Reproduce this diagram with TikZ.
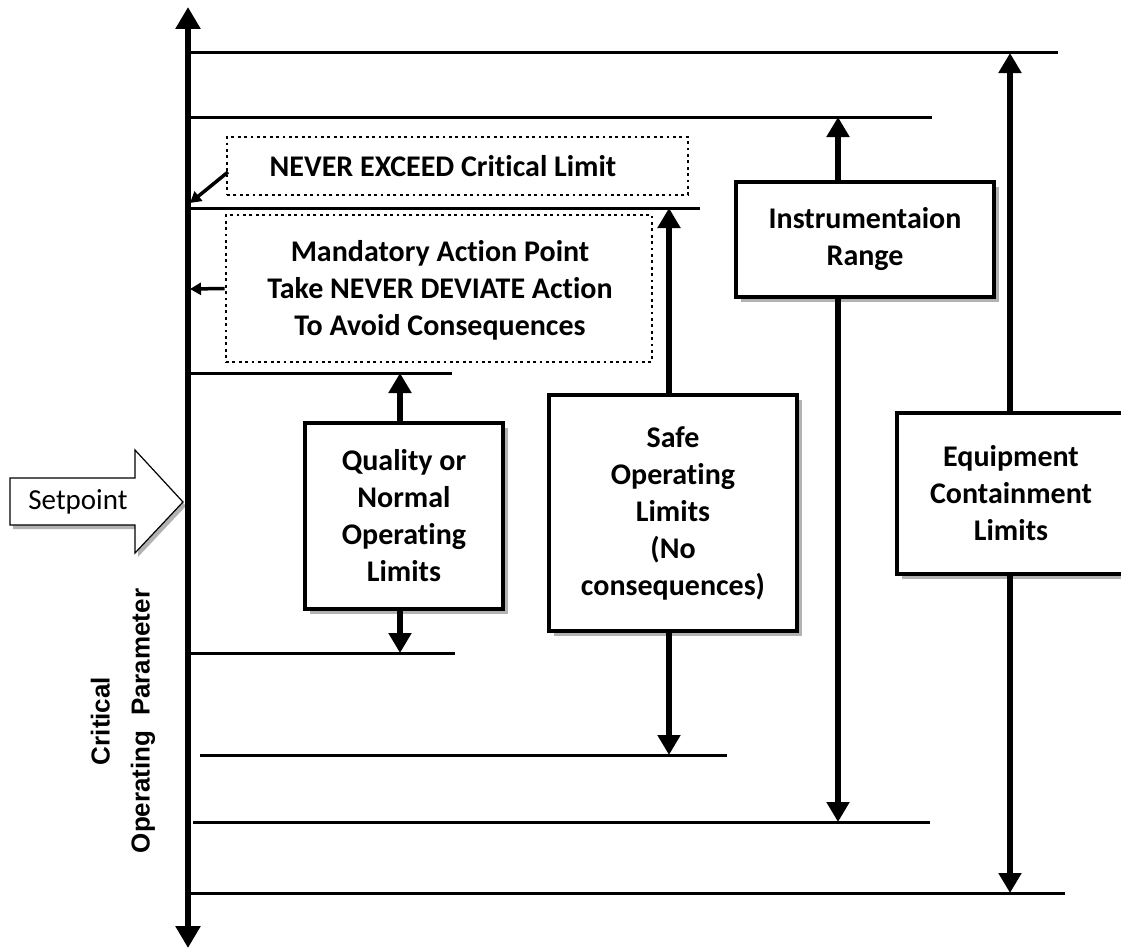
\documentclass[tikz,border=0pt]{standalone}
\usepackage{fontspec}
\setmainfont[Ligatures={NoCommon}]{Carlito}
\newfontfamily\arialfont{Liberation Sans}
\usetikzlibrary{arrows.meta,shadows}
\begin{document}
\begin{tikzpicture}[x=1pt,y=-1pt,
  hline/.style={line width=3pt},
  axisline/.style={line width=6pt,{Triangle[width=24pt,length=22pt]}-{Triangle[width=24pt,length=22pt]}},
  arr/.style={line width=6pt,-{Triangle[width=22pt,length=20pt]}},
  smallarr/.style={line width=3.5pt,-{Triangle[width=12pt,length=11pt]}},
  shad/.style={drop shadow={shadow xshift=5pt,shadow yshift=-5pt,fill=black,opacity=0.3}},
  limitbox/.style={draw,line width=3.5pt,fill=white,shad,inner sep=0pt,align=center,
    font=\bfseries\fontsize{30}{37}\selectfont},
  dotbox/.style={draw,line width=2.8pt,dash pattern=on 2.8pt off 3.6pt,inner sep=0pt},
  boxtext/.style={align=center,font=\bfseries\fontsize{30}{37}\selectfont,inner sep=0pt}
]
\useasboundingbox (0,0) rectangle (1121,950);

% horizontal limit lines
\coordinate (L1) at (1058,53);
\coordinate (L2) at (932,117);
\coordinate (L3) at (700,208);
\coordinate (L4) at (452,373);
\coordinate (L5) at (455,653);
\coordinate (L6) at (727,755);
\coordinate (L7) at (930,822);
\coordinate (L8) at (1065,893);
\draw[hline] (188,53) -- (L1);
\draw[hline] (188,117) -- (L2);
\draw[hline] (188,208) -- (L3);
\draw[hline] (188,373) -- (L4);
\draw[hline] (188,653) -- (L5);
\draw[hline] (200,755) -- (L6);
\draw[hline] (193,822) -- (L7);
\draw[hline] (188,893) -- (L8);

% main axis
\coordinate (atop) at (188,7);
\coordinate (abot) at (188,948);
\draw[axisline] (abot) -- (atop);

% dotted boxes
\node[dotbox,minimum width=461pt,minimum height=58pt] (never) at (457.5,166) {};
\node[boxtext] (nevertxt) at (443,166) {NEVER EXCEED Critical Limit};
\node[dotbox,minimum width=426pt,minimum height=147pt] (mand) at (439,288.5) {};
\node[boxtext] (mandtxt) at (440,290) {Mandatory Action Point\\Take NEVER DEVIATE Action\\To Avoid Consequences};
\coordinate (nevtip) at (190,203);
\coordinate (mandtip) at (190,289);
\draw[smallarr] (228,172) -- (nevtip);
\draw[smallarr] (mand.west) -- (mandtip);

% limit boxes
\node[limitbox,minimum width=198pt,minimum height=186pt] (qual) at (404,516) {Quality or\\Normal\\Operating\\Limits};
\node[limitbox,minimum width=248pt,minimum height=236pt] (safe) at (673,513) {Safe\\Operating\\Limits\\(No\\consequences)};
\node[limitbox,minimum width=258pt,minimum height=115pt] (instr) at (865,239.5) {Instrumentaion\\Range};
\node[limitbox,minimum width=228pt,minimum height=161pt] (equip) at (1011,493.5) {Equipment\\Containment\\Limits};

% arrows
\draw[arr] (qual.north -| 400,0) -- (L4 -| 400,0);
\draw[arr] (qual.south -| 400,0) -- (L5 -| 400,0);
\draw[arr] (safe.north -| 669,0) -- (L3 -| 669,0);
\draw[arr] (safe.south -| 669,0) -- (L6 -| 669,0);
\draw[arr] (instr.north -| 838,0) -- (L2 -| 838,0);
\draw[arr] (instr.south -| 838,0) -- (L7 -| 838,0);
\draw[arr] (equip.north -| 1010,0) -- (L1 -| 1010,0);
\draw[arr] (equip.south -| 1010,0) -- (L8 -| 1010,0);

% setpoint block arrow
\draw[line width=1.2pt,fill=white,drop shadow={shadow xshift=3pt,shadow yshift=-4pt,fill=black,opacity=0.3}]
  (10,478) -- (135,478) -- (135,450) -- (183,502) -- (135,553) -- (135,525) -- (10,525) -- cycle;
\node[font=\fontsize{29}{34}\selectfont,inner sep=0pt] (setp) at (78,502) {Setpoint};

% axis label
\node[rotate=90,align=center,inner sep=0pt,font=\arialfont\bfseries\fontsize{26}{40}\selectfont] (axlabel) at (123,721) {Critical\\Operating\ \ Parameter};
\end{tikzpicture}
\end{document}
